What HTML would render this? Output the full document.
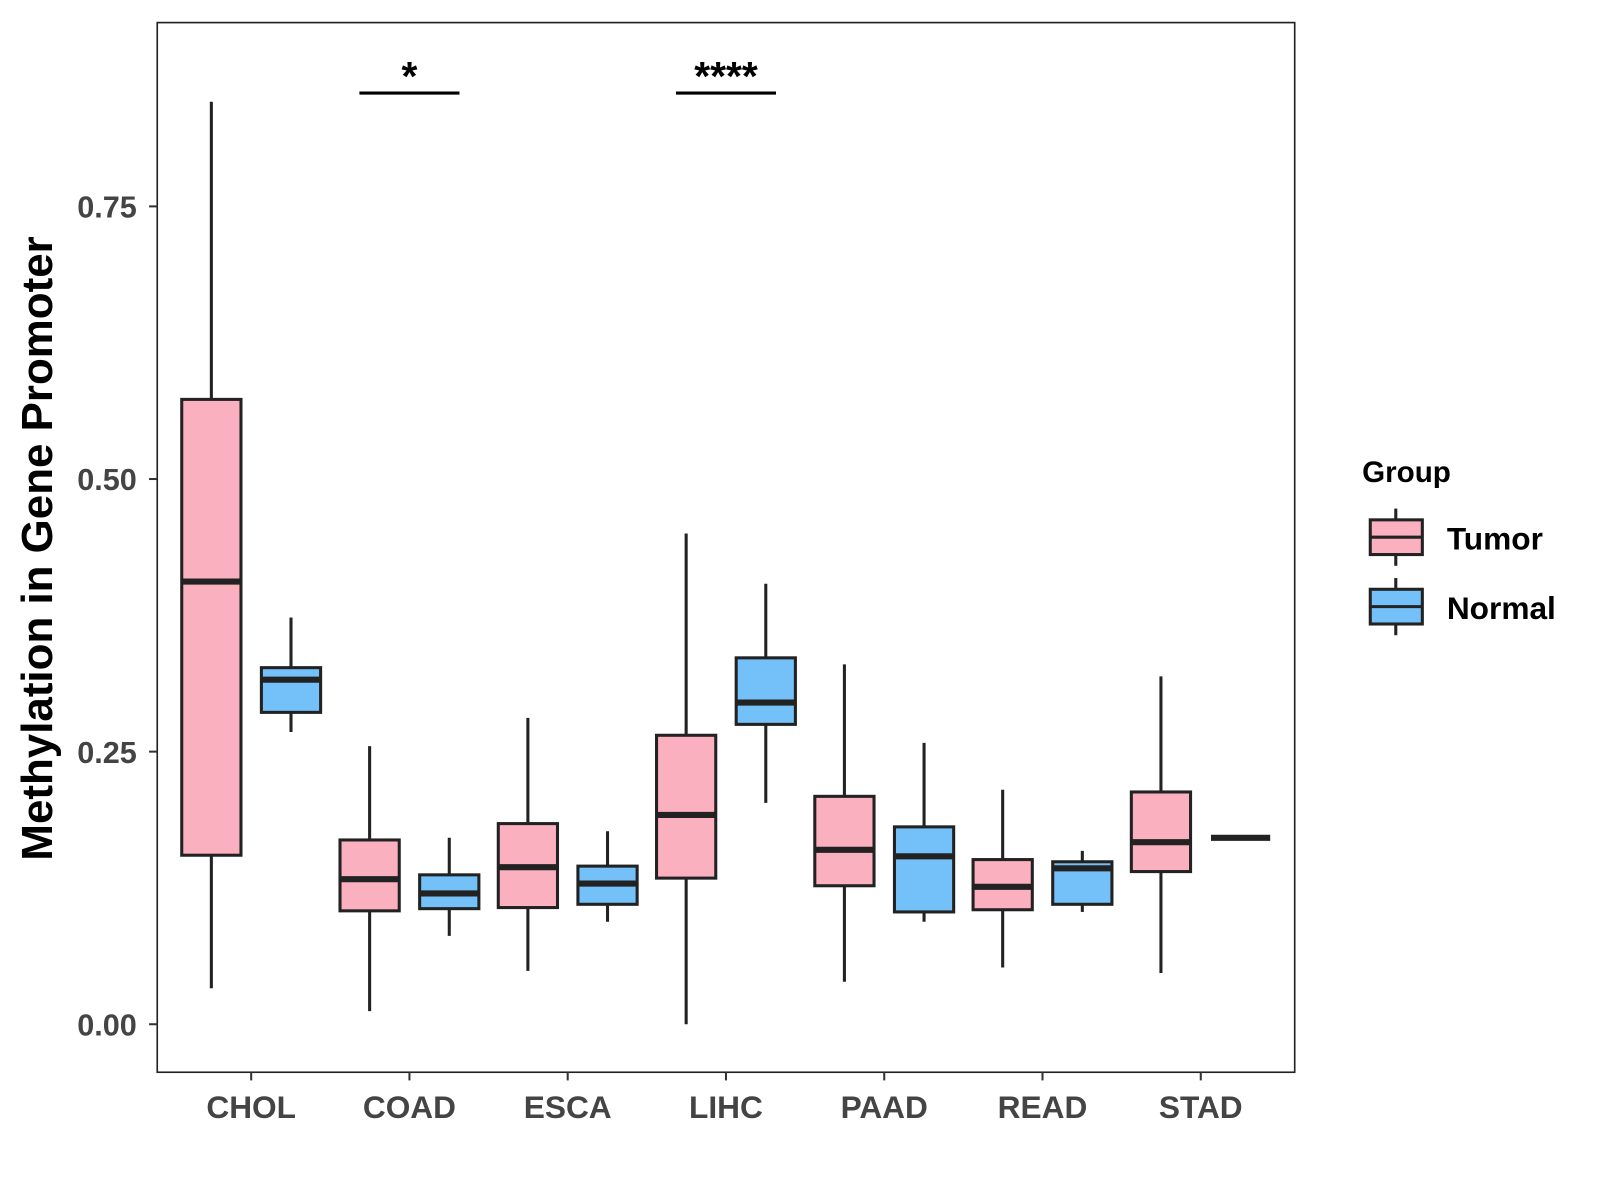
<!DOCTYPE html>
<html><head><meta charset="utf-8"><style>
html,body{margin:0;padding:0;background:#fff;}
svg{display:block;font-family:"Liberation Sans",Arial,sans-serif;}
</style></head><body>
<svg id="chart" width="1600" height="1200" viewBox="0 0 1567 1175">
<rect x="0" y="0" width="1567" height="1175" fill="#fff"/>
<rect x="154" y="22" width="1114" height="1028" fill="none" stroke="#222" stroke-width="1.6"/>
<g id="yaxis"></g>
<g id="xaxis"></g>
<g id="boxes"></g>
<g>
<line x1="352" y1="91" x2="450" y2="91" stroke="#000" stroke-width="3"/>
<text x="401" y="88" text-anchor="middle" font-size="40" font-weight="bold">*</text>
</g>
<g>
<line x1="662" y1="91" x2="760" y2="91" stroke="#000" stroke-width="3"/>
<text x="711" y="88" text-anchor="middle" font-size="40" font-weight="bold">****</text>
</g>
<text transform="translate(51,537) rotate(-90)" text-anchor="middle" font-size="43" font-weight="bold" fill="#000">Methylation in Gene Promoter</text>
<g>
<text x="1334" y="472" font-size="29" font-weight="bold">Group</text>
<g>
<line x1="1367" y1="498" x2="1367" y2="554" stroke="#222" stroke-width="3"/>
<rect x="1342" y="509" width="51" height="34" fill="#FBB0C0" stroke="#222" stroke-width="3"/>
<line x1="1342" y1="526" x2="1393" y2="526" stroke="#222" stroke-width="3"/>
<text x="1417" y="538" font-size="31" font-weight="bold">Tumor</text>
</g>
<g>
<line x1="1367" y1="566" x2="1367" y2="622" stroke="#222" stroke-width="3"/>
<rect x="1342" y="577" width="51" height="34" fill="#74C0F8" stroke="#222" stroke-width="3"/>
<line x1="1342" y1="594" x2="1393" y2="594" stroke="#222" stroke-width="3"/>
<text x="1417" y="606" font-size="31" font-weight="bold">Normal</text>
</g>
</g>
</svg>
<script>
const categories = ["CHOL","COAD","ESCA","LIHC","PAAD","READ","STAD"];
const yTicks = [0, 0.25, 0.5, 0.75];
const yTickLabels = ["0.00","0.25","0.50","0.75"];
// [lowWhisker, q1, median, q3, highWhisker]
const tumorStats = [
 [0.033,0.155,0.406,0.573,0.846],
 [0.012,0.104,0.133,0.169,0.255],
 [0.049,0.107,0.144,0.184,0.281],
 [0.000,0.134,0.192,0.265,0.450],
 [0.039,0.127,0.160,0.209,0.330],
 [0.052,0.105,0.126,0.151,0.215],
 [0.047,0.140,0.167,0.213,0.319]
];
const normalStats = [
 [0.268,0.286,0.316,0.327,0.373],
 [0.081,0.106,0.120,0.137,0.171],
 [0.094,0.110,0.129,0.145,0.177],
 [0.203,0.275,0.295,0.336,0.404],
 [0.094,0.103,0.154,0.181,0.258],
 [0.103,0.110,0.143,0.149,0.159],
 [0.171,0.171,0.171,0.171,0.171]
];
const NS="http://www.w3.org/2000/svg";
function yScale(v){return 1003 - v*1068;}
function xScale(i){return 246 + i*155;}
function mk(tag,attrs,parent){const e=document.createElementNS(NS,tag);for(const k in attrs)e.setAttribute(k,attrs[k]);parent.appendChild(e);return e;}
const ya=document.getElementById('yaxis');
yTicks.forEach((v,i)=>{
  const y=yScale(v);
  const t=mk('line',{x1:146,x2:154,y1:y,y2:y,stroke:'#333','stroke-width':2},ya);
  
  
  const l=mk('text',{x:134,y:y+11,'text-anchor':'end','font-size':30,'font-weight':'bold',fill:'#444'},ya);
  l.textContent=yTickLabels[i];
  
  
});
const xa=document.getElementById('xaxis');
categories.forEach((c,i)=>{
  const x=xScale(i);
  const t=mk('line',{x1:x,x2:x,y1:1050,y2:1058,stroke:'#333','stroke-width':2},xa);
  
  
  const l=mk('text',{x:x,y:1095,'text-anchor':'middle','font-size':31,'font-weight':'bold',fill:'#444'},xa);
  l.textContent=c;
  
  
});
const bg=document.getElementById('boxes');
function drawBox(s,cx,fill,name){
  const g=mk('g',{},bg);
  
  
  const w=58;
  mk('line',{x1:cx,x2:cx,y1:yScale(s[4]),y2:yScale(s[0]),stroke:'#222','stroke-width':3},g);
  mk('rect',{x:cx-w/2,y:yScale(s[3]),width:w,height:Math.max(0,yScale(s[1])-yScale(s[3])),fill:fill,stroke:'#222','stroke-width':3},g);
  mk('line',{x1:cx-w/2,x2:cx+w/2,y1:yScale(s[2]),y2:yScale(s[2]),stroke:'#222','stroke-width':6},g);
}
categories.forEach((c,i)=>{
  drawBox(tumorStats[i],xScale(i)-39,'#FBB0C0','box-tumor-'+c.toLowerCase());
  drawBox(normalStats[i],xScale(i)+39,'#74C0F8','box-normal-'+c.toLowerCase());
});
</script>
</body></html>
